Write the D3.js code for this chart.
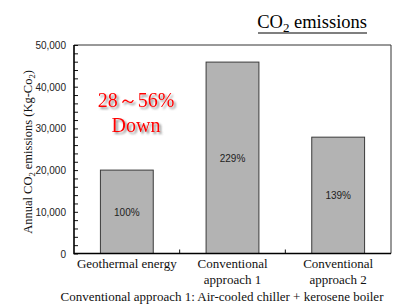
<!DOCTYPE html>
<html>
<head>
<meta charset="utf-8">
<script src="https://cdn.jsdelivr.net/npm/d3@7"></script>
<style>
  body { margin: 0; background: #fff; }
  svg { display: block; }
</style>
</head>
<body>
<div id="chart"></div>
<script>
// data
const categories = ["Geothermal energy", "Conventional approach 1", "Conventional approach 2"];
const catLines = [["Geothermal energy"], ["Conventional", "approach 1"], ["Conventional", "approach 2"]];
const emissions = [20000, 45900, 27900];
const shares = ["100%", "229%", "139%"];
const yTicks = [0, 10000, 20000, 30000, 40000, 50000];

const W = 404, H = 307;
const plot = {left: 74, right: 391, top: 45, bottom: 253.5};

const svg = d3.select("#chart").append("svg")
  .attr("width", W).attr("height", H);

const defs = svg.append("defs");
const sh = defs.append("filter").attr("id", "shadow")
  .attr("x", "-20%").attr("y", "-20%").attr("width", "150%").attr("height", "150%");
sh.append("feDropShadow").attr("dx", 2).attr("dy", 2).attr("stdDeviation", 1.2)
  .attr("flood-color", "#555").attr("flood-opacity", 0.7);

const x = d3.scaleBand().domain(categories)
  .range([plot.left, plot.right]).paddingInner(0.5).paddingOuter(0.25);
const y = d3.scaleLinear().domain([0, 50000]).range([plot.bottom, plot.top]);

// frame (top + right)
svg.append("path")
  .attr("d", `M${plot.left},${plot.top}H${plot.right}V${plot.bottom}`)
  .attr("fill", "none").attr("stroke", "#333").attr("stroke-width", 1);

// bars
svg.selectAll("rect.bar").data(emissions).join("rect")
  .attr("class", "bar")
  .attr("x", (d, i) => x(categories[i]))
  .attr("width", x.bandwidth())
  .attr("y", d => y(d))
  .attr("height", d => y(0) - y(d))
  .attr("fill", "#b3b3b3")
  .attr("stroke", "#3a3a3a").attr("stroke-width", 1);

svg.selectAll("text.share").data(emissions).join("text")
  .attr("class", "share")
  .attr("x", (d, i) => x(categories[i]) + x.bandwidth() / 2)
  .attr("y", d => (y(d) + y(0)) / 2 + 4)
  .attr("text-anchor", "middle")
  .style("font-family", "Arial, 'Liberation Sans', sans-serif")
  .style("font-size", "10px").attr("fill", "#222")
  .text((d, i) => shares[i]);

// y axis with inward ticks
const yAxis = d3.axisRight(y).tickValues(d3.range(0, 50001, 2000))
  .tickSize(4).tickFormat("");
const ya = svg.append("g").attr("transform", `translate(${plot.left},0)`).call(yAxis);
ya.select(".domain").remove();
ya.selectAll("line").attr("stroke", "#111");

svg.selectAll("text.ytick").data(yTicks).join("text")
  .attr("class", "ytick")
  .attr("x", 66).attr("y", d => y(d) + 4)
  .attr("text-anchor", "end")
  .style("font-family", "Arial, 'Liberation Sans', sans-serif")
  .style("font-size", "10px").attr("fill", "#222")
  .text(d => d3.format(",")(d));

// x ticks between categories, pointing up
const xb = [x.step(), 2 * x.step()].map(s => plot.left + s);
svg.selectAll("line.xtick").data(xb).join("line")
  .attr("x1", d => d).attr("x2", d => d)
  .attr("y1", plot.bottom).attr("y2", plot.bottom - 4)
  .attr("stroke", "#111");

// axis lines
svg.append("path")
  .attr("d", `M${plot.left},${plot.top}V${plot.bottom}H${plot.right}`)
  .attr("fill", "none").attr("stroke", "#000").attr("stroke-width", 1.6);

// category labels
const serif = "'Times New Roman', 'Liberation Serif', serif";
catLines.forEach((lines, i) => {
  const cx = x(categories[i]) + x.bandwidth() / 2;
  const t = svg.append("text").attr("x", cx).attr("y", 268)
    .attr("text-anchor", "middle")
    .style("font-family", serif).style("font-size", "13px").attr("fill", "#111");
  lines.forEach((l, k) => t.append("tspan").attr("x", cx).attr("dy", k ? 16 : 0).text(l));
});

svg.append("text").attr("x", 222).attr("y", 301)
  .attr("text-anchor", "middle")
  .style("font-family", serif).style("font-size", "13px").attr("fill", "#111")
  .text("Conventional approach 1: Air-cooled chiller + kerosene boiler");

// y axis title
const yt = svg.append("text")
  .attr("transform", "translate(32,152) rotate(-90)")
  .attr("text-anchor", "middle")
  .style("font-family", serif).style("font-size", "12.5px").attr("fill", "#111");
yt.append("tspan").text("Annual CO");
yt.append("tspan").attr("dy", 3).style("font-size", "8.5px").text("2");
yt.append("tspan").attr("dy", -3).text(" emissions (Kg-Co");
yt.append("tspan").attr("dy", 3).style("font-size", "8.5px").text("2");
yt.append("tspan").attr("dy", -3).text(")");

// title
const tt = svg.append("text").attr("x", 367).attr("y", 28)
  .attr("text-anchor", "end")
  .style("font-family", serif).style("font-size", "18.5px").attr("fill", "#000");
tt.append("tspan").text("CO");
tt.append("tspan").attr("dy", 4).style("font-size", "13px").text("2");
tt.append("tspan").attr("dy", -4).text(" emissions");
svg.append("line").attr("x1", 258).attr("x2", 367).attr("y1", 33).attr("y2", 33)
  .attr("stroke", "#000").attr("stroke-width", 1.2);

// annotation
const ann = svg.append("g").attr("filter", "url(#shadow)")
  .style("font-family", serif).style("font-size", "20px").attr("fill", "#ff0000");
ann.append("text").attr("x", 136).attr("y", 107).attr("text-anchor", "middle").text("28～56%");
ann.append("text").attr("x", 136).attr("y", 132).attr("text-anchor", "middle").text("Down");
</script>
</body>
</html>
